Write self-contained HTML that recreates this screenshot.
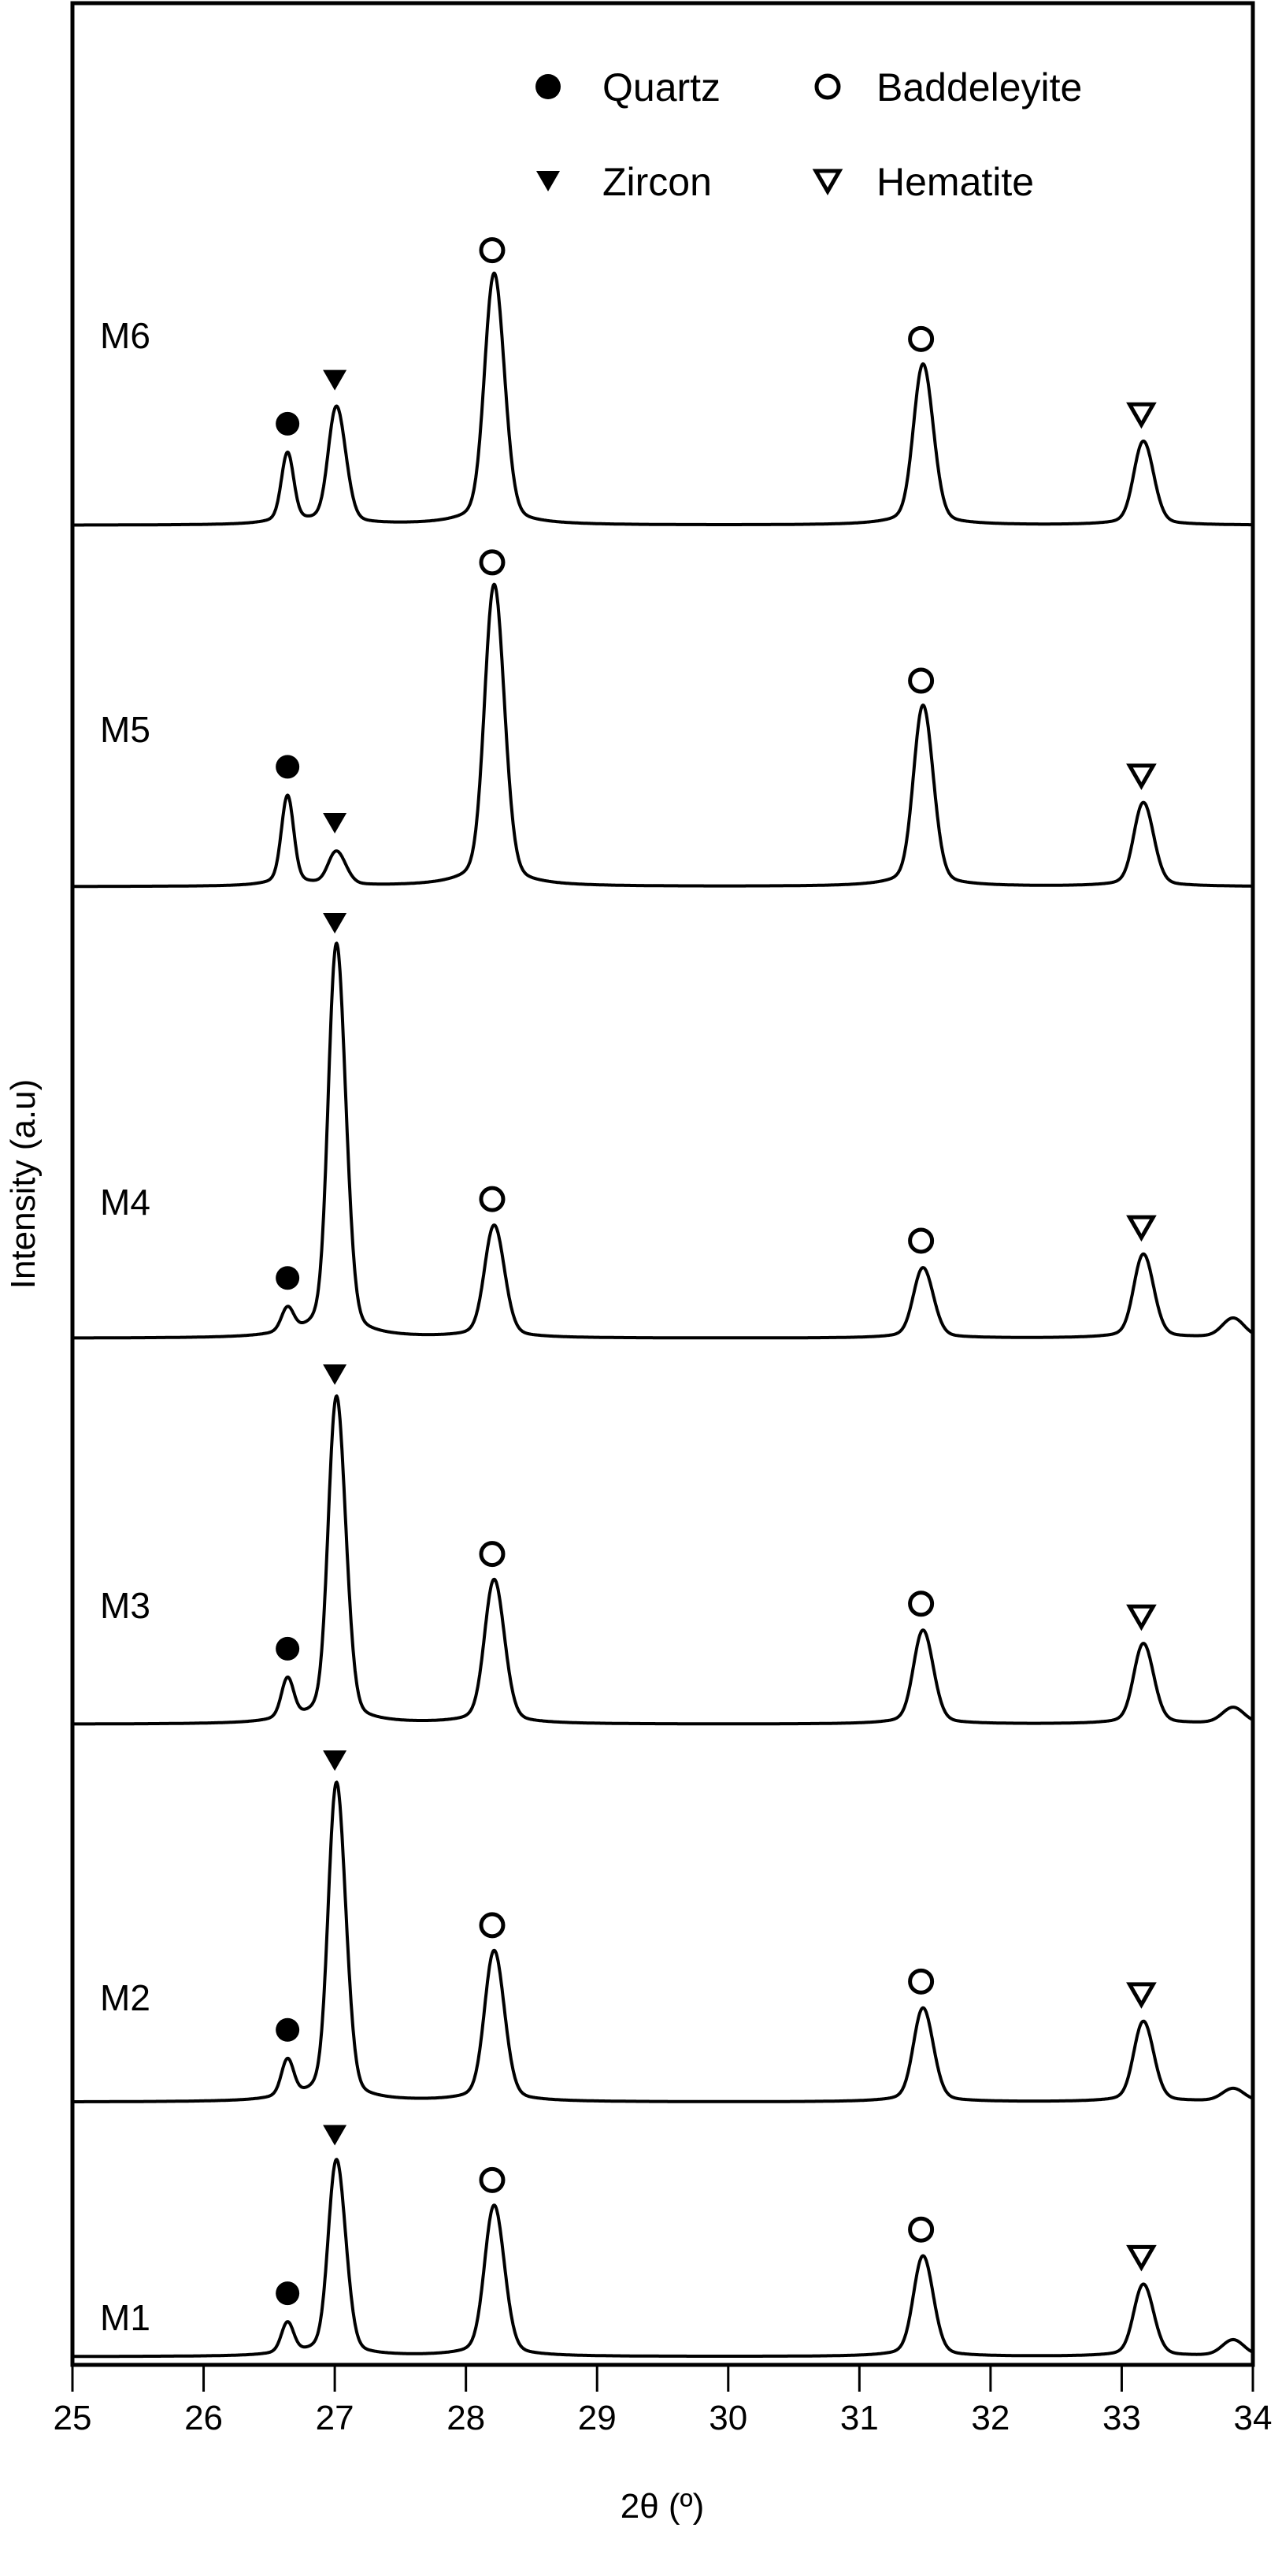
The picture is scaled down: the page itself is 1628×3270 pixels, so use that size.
<!DOCTYPE html>
<html><head><meta charset="utf-8"><style>
html,body{margin:0;padding:0;background:#fff;}
svg{display:block;font-family:"Liberation Sans",Arial,sans-serif;}
</style></head><body>
<svg id="chart" width="1628" height="3270" viewBox="0 0 1628 3270" xmlns="http://www.w3.org/2000/svg"></svg>
<script>
// ---- data ----
const samples = ["M6","M5","M4","M3","M2","M1"];
const offsets = [11200, 9000, 6250, 3900, 1600, 50];
const peakPositions = [26.64, 27.0, 28.2, 31.47, 33.15, 33.85];
const peakPhases = ["quartz","zircon","baddeleyite","baddeleyite","hematite",null];
const heightsM6 = [430, 700, 1500, 960, 500, 0];
const heightsM5 = [550, 200, 1800, 1080, 500, 0];
const heightsM4 = [150, 2350, 670, 420, 500, 120];
const heightsM3 = [250, 1950, 860, 560, 480, 100];
const heightsM2 = [230, 1900, 900, 560, 480, 80];
const heightsM1 = [190, 1170, 900, 600, 430, 100];
const xTicks = [25,26,27,28,29,30,31,32,33,34];
const peakWidths = [0.045, 0.055, 0.065, 0.065, 0.065, 0.08];
const allHeights = [heightsM6, heightsM5, heightsM4, heightsM3, heightsM2, heightsM1];

// ---- layout ----
const L=92, R=1591, T=4, B=3002;
const xMin=25, xMax=34;
const k=0.2085; // px per count
const labelY=[442, 942, 1542, 2054, 2552, 2958];
function sx(v){return L+(v-xMin)/(xMax-xMin)*(R-L);}
function sy(c){return B-c*k;}
const NS="http://www.w3.org/2000/svg";
const svg=document.getElementById('chart');
function mk(tag,attrs){const e=document.createElementNS(NS,tag);for(const a in attrs)e.setAttribute(a,attrs[a]);return e;}

function shape(x,i){
  const w=peakWidths[i];
  const d=x-peakPositions[i];
  const d2=x-(peakPositions[i]+0.07);
  let y=0.85*Math.exp(-d*d/(2*w*w))+0.12*(1/(1+d*d/(9*w*w)));
  if(i>=1&&i<=4) y+=0.35*Math.exp(-d2*d2/(2*w*w));
  return y;
}
const norm=peakPositions.map((p,i)=>shape(p,i));
function profile(x,h){
  let y=0;
  for(let i=0;i<peakPositions.length;i++) y+=h[i]*shape(x,i)/norm[i];
  return y;
}

samples.forEach((s,si)=>{
  const h=allHeights[si];
  let d="";
  for(let x=xMin;x<=xMax+1e-9;x+=0.005){
    const c=offsets[si]+profile(x,h);
    d+=(d?"L":"M")+sx(x).toFixed(1)+","+sy(c).toFixed(1);
  }
  const p=mk('path',{d:d,fill:'none',stroke:'#000','stroke-width':4,'stroke-linejoin':'round'});
  
  
  svg.appendChild(p);
  const t=mk('text',{x:127,y:labelY[si],'font-size':46,fill:'#000'});
  t.textContent=s;
  
  
  svg.appendChild(t);
  for(let i=0;i<5;i++){
    const px=sx(peakPositions[i]);
    const top=sy(offsets[si]+profile(peakPositions[i],h))-36;
    const ph=peakPhases[i];
    let m;
    if(ph==='quartz') m=mk('circle',{cx:px,cy:top,r:15,fill:'#000'});
    else if(ph==='baddeleyite') m=mk('circle',{cx:px,cy:top,r:14,fill:'none',stroke:'#000','stroke-width':5});
    else if(ph==='zircon') m=mk('path',{d:`M${px-15},${top-13}L${px+15},${top-13}L${px},${top+13}Z`,fill:'#000'});
    else m=mk('path',{d:`M${px-15},${top-13}L${px+15},${top-13}L${px},${top+13}Z`,fill:'none',stroke:'#000','stroke-width':5});
    
    
    svg.appendChild(m);
  }
});

const box=mk('rect',{x:L,y:T,width:R-L,height:B-T,fill:'none',stroke:'#000','stroke-width':5});


svg.appendChild(box);
xTicks.forEach(v=>{
  const ln=mk('line',{x1:sx(v),x2:sx(v),y1:B,y2:B+34,stroke:'#000','stroke-width':3});
  
  
  svg.appendChild(ln);
  const t=mk('text',{x:sx(v),y:B+82,'font-size':44,'text-anchor':'middle',fill:'#000'});
  t.textContent=v;
  
  
  svg.appendChild(t);
});
</script>
<svg style="position:absolute;left:0;top:0" width="1628" height="3270">
  <text x="841" y="3196" font-size="44" text-anchor="middle" font-family="Liberation Sans, sans-serif">2θ (º)</text>
  <text transform="translate(44,1503) rotate(-90)" font-size="44" text-anchor="middle" font-family="Liberation Sans, sans-serif">Intensity (a.u)</text>
  <g font-family="Liberation Sans, sans-serif" font-size="50">
    <circle cx="696" cy="110" r="16" fill="#000"/>
    <text x="765" y="128">Quartz</text>
    <circle cx="1051" cy="110" r="14" fill="none" stroke="#000" stroke-width="5"/>
    <text x="1113" y="128">Baddeleyite</text>
    <path d="M681,217L711,217L696,243Z" fill="#000"/>
    <text x="765" y="248">Zircon</text>
    <path d="M1036,217L1066,217L1051,243Z" fill="none" stroke="#000" stroke-width="5"/>
    <text x="1113" y="248">Hematite</text>
  </g>
</svg>
</body></html>
